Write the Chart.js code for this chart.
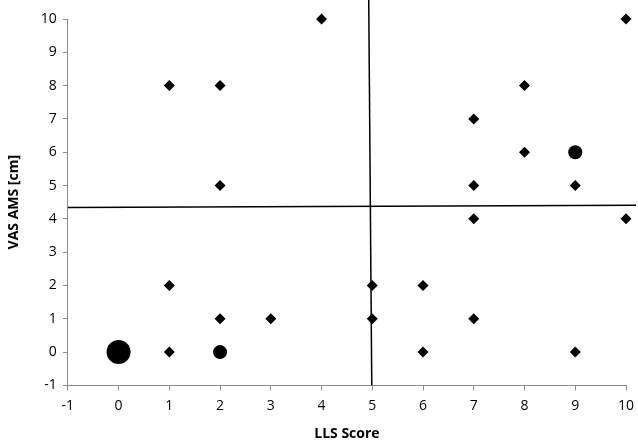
<!DOCTYPE html>
<html>
<head>
<meta charset="utf-8">
<script src="https://cdn.jsdelivr.net/npm/chart.js@4/dist/chart.umd.min.js"></script>
<style>
  body { margin: 0; background: #fff; }
  #wrap { width: 638px; height: 443px; }
</style>
</head>
<body>
<div id="wrap"><canvas id="scatter-chart"></canvas></div>
<script>
// single patients (diamonds)
var diamondX = [4, 10, 1, 2, 8, 7, 8, 2, 7, 9, 7, 10, 1, 5, 6, 2, 3, 5, 7, 1, 6, 9];
var diamondY = [10, 10, 8, 8, 8, 7, 6, 5, 5, 5, 4, 4, 2, 2, 2, 1, 1, 1, 1, 0, 0, 0];
// grouped patients (circles, size = count)
var circleX = [0, 2, 9];
var circleY = [0, 0, 6];
var circleR = [12, 7, 7];
// cut-off lines
var vLineX = [4.93, 4.99];
var vLineY = [10.6, -1];
var hLineX = [-1, 10.2];
var hLineY = [4.34, 4.41];

var xTicks = [-1, 0, 1, 2, 3, 4, 5, 6, 7, 8, 9, 10];

function pts(xs, ys) {
  return xs.map(function (x, i) { return { x: x, y: ys[i] }; });
}

var axisGrey = '#8c8c8c';
var tickFont = { family: 'Open Sans', size: 14 };
var titleFont = { family: 'Open Sans', size: 14, weight: 'bold' };

new Chart(document.getElementById('scatter-chart'), {
  type: 'scatter',
  data: {
    datasets: [
      {
        data: pts(vLineX, vLineY),
        showLine: true,
        borderColor: '#000',
        borderWidth: 1.5,
        pointRadius: 0,
        clip: false
      },
      {
        data: pts(hLineX, hLineY),
        showLine: true,
        borderColor: '#000',
        borderWidth: 1.5,
        pointRadius: 0,
        clip: false
      },
      {
        data: pts(diamondX, diamondY),
        pointStyle: 'rectRot',
        pointRadius: 5.5,
        backgroundColor: '#000',
        borderColor: '#000',
        borderWidth: 0,
        clip: false
      },
      {
        data: pts(circleX, circleY),
        pointStyle: 'circle',
        pointRadius: circleR,
        backgroundColor: '#000',
        borderColor: '#000',
        borderWidth: 0,
        clip: false
      }
    ]
  },
  options: {
    responsive: true,
    maintainAspectRatio: false,
    animation: false,
    layout: { padding: { top: 19, right: 0, left: 6, bottom: 3 } },
    plugins: {
      legend: { display: false },
      tooltip: { enabled: false }
    },
    scales: {
      x: {
        type: 'linear',
        min: -1,
        max: 10,
        afterBuildTicks: function (axis) {
          axis.ticks = xTicks.map(function (v) { return { value: v }; });
        },
        afterFit: function (axis) {
          axis.paddingRight = 10;
        },
        grid: { drawOnChartArea: false, drawTicks: true, tickLength: 5, color: axisGrey },
        border: { color: axisGrey, width: 1 },
        ticks: { color: '#000', font: tickFont, padding: 7 },
        title: {
          display: true,
          text: 'LLS Score',
          color: '#000',
          font: titleFont,
          padding: { top: 4, bottom: -2 }
        }
      },
      y: {
        type: 'linear',
        min: -1,
        max: 10,
        ticks: { stepSize: 1, color: '#000', font: tickFont, padding: 6 },
        grid: { drawOnChartArea: false, drawTicks: true, tickLength: 5, color: axisGrey },
        border: { color: axisGrey, width: 1 },
        title: {
          display: true,
          text: 'VAS AMS [cm]',
          color: '#000',
          font: titleFont,
          padding: { top: 0, bottom: 12 }
        }
      }
    }
  }
});
</script>
</body>
</html>
